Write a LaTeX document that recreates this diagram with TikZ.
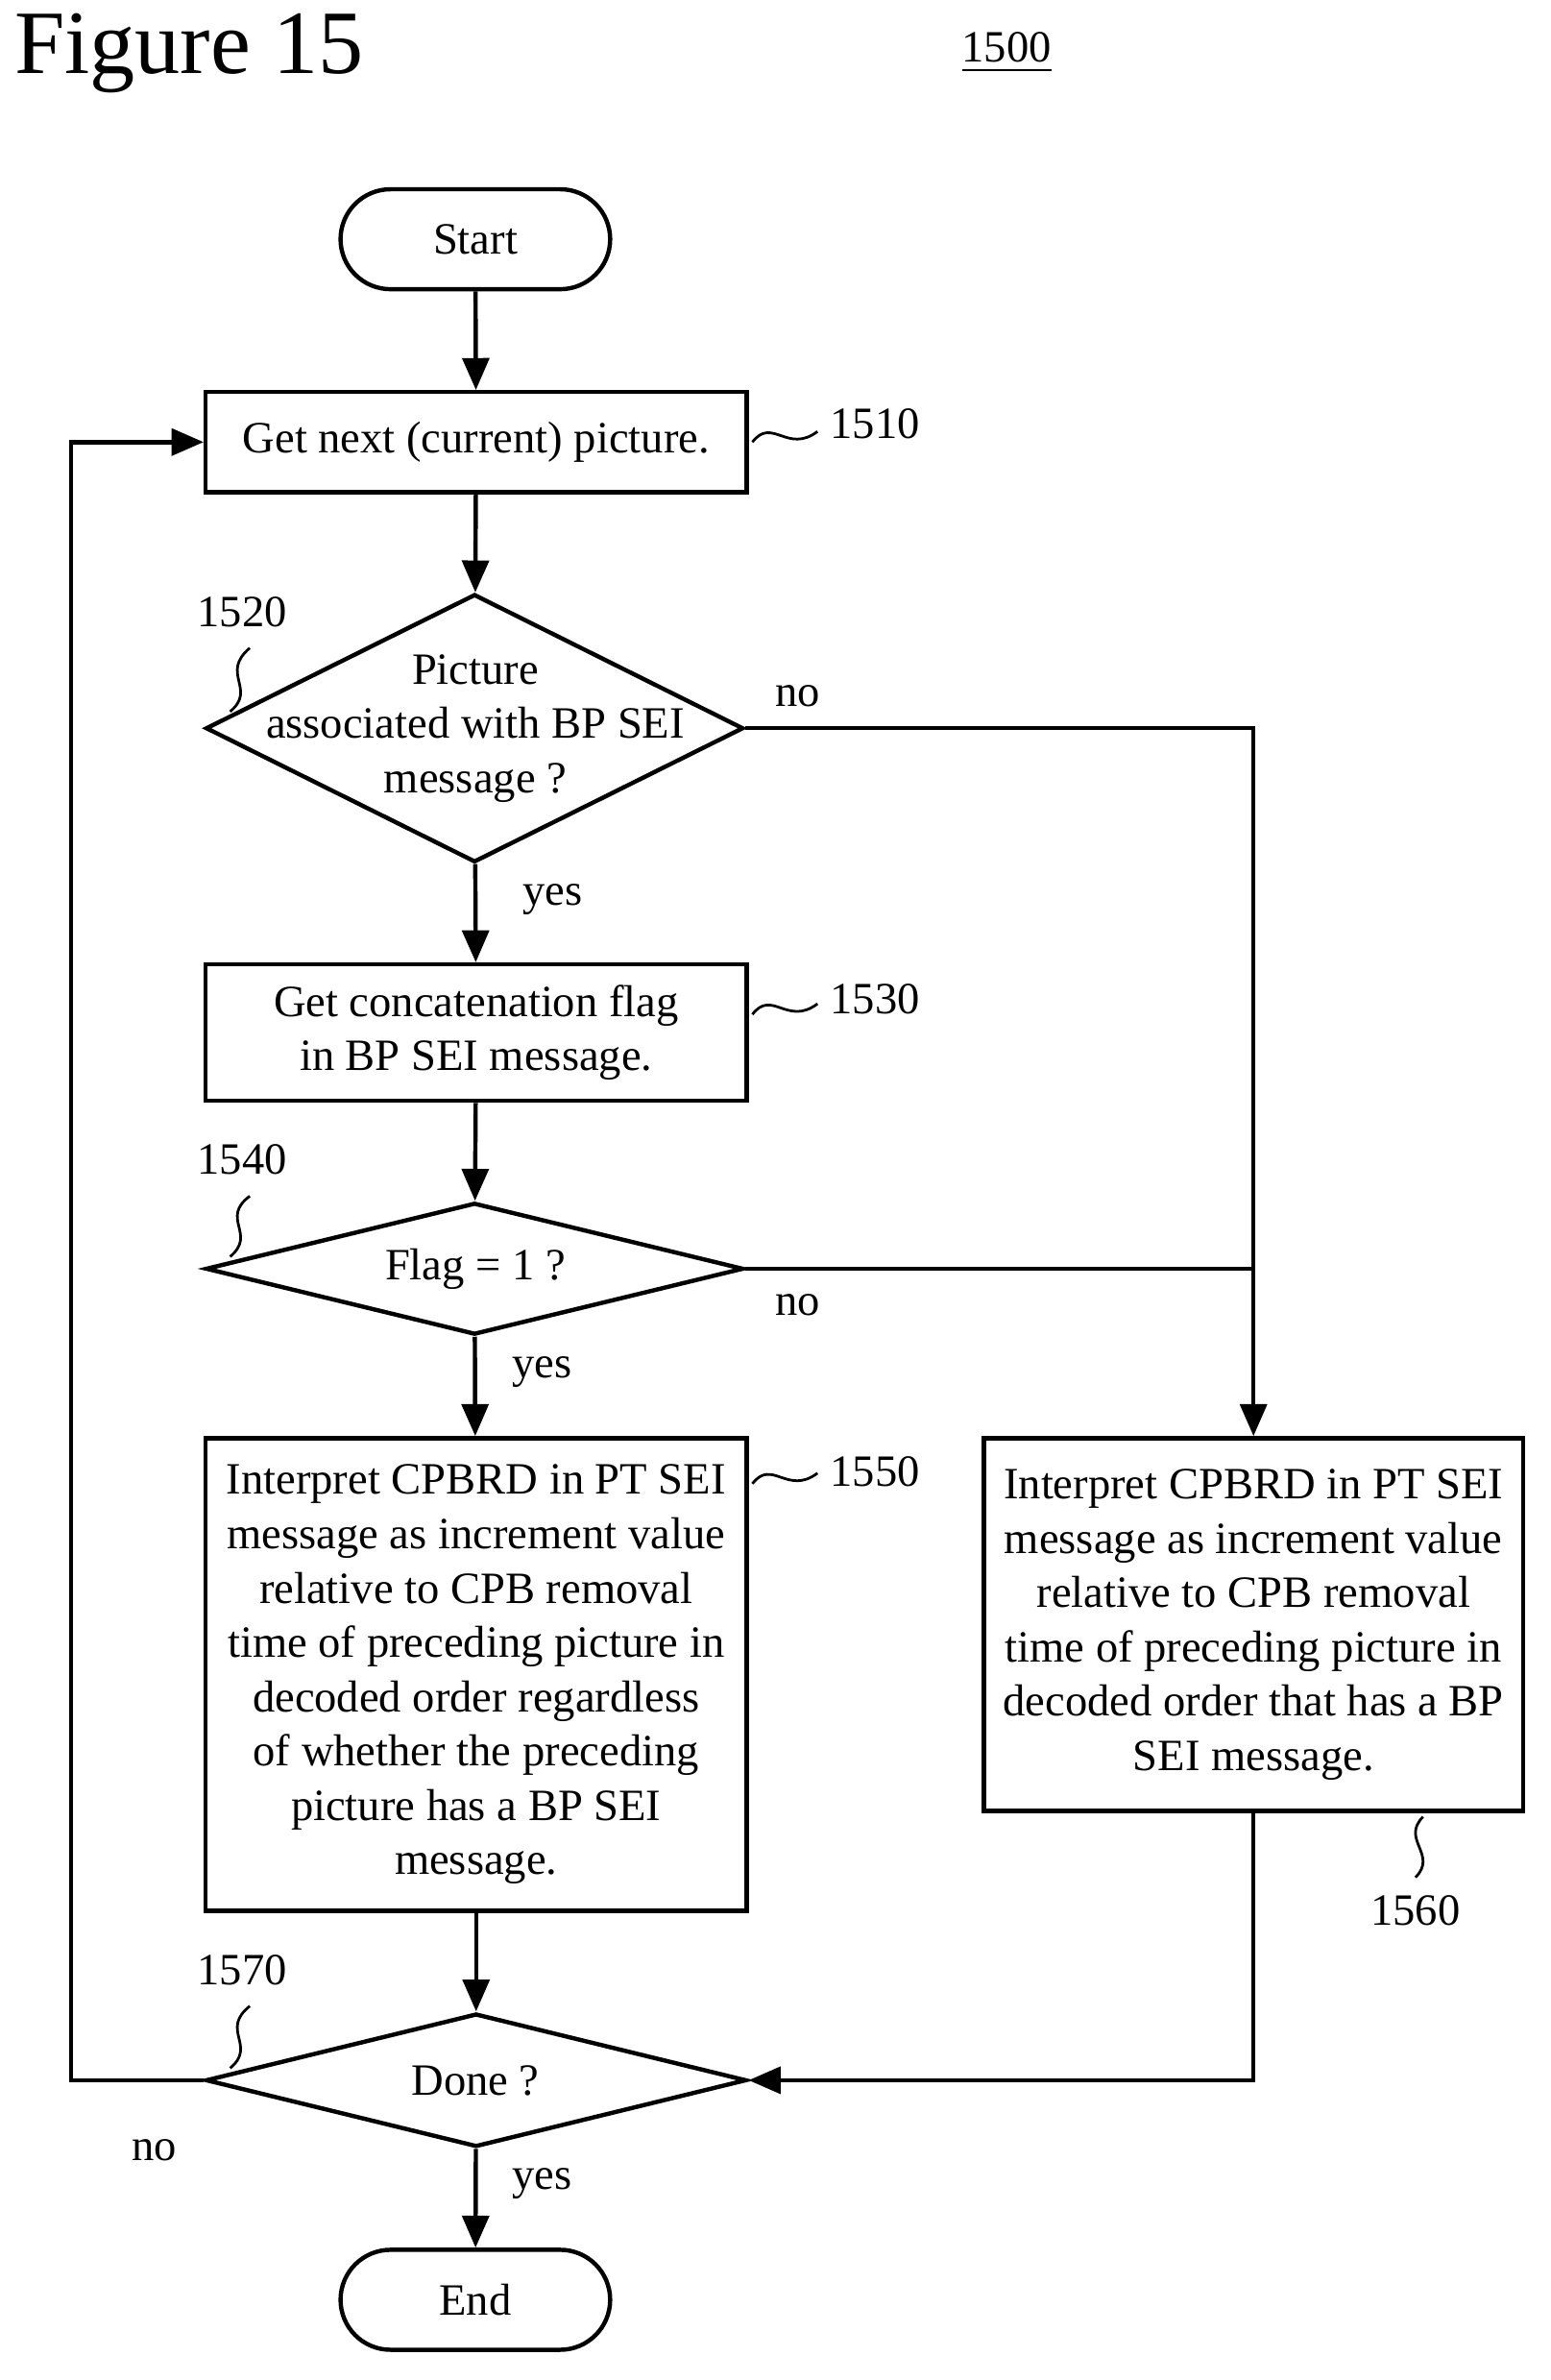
\documentclass[tikz,border=0pt]{standalone}
\usepackage{fontspec}
\setmainfont{Liberation Serif}
\usetikzlibrary{shapes.geometric,arrows.meta}
\begin{document}
\begin{tikzpicture}[x=0.01cm,y=-0.01cm,line width=0.8pt,
  every node/.style={font=\fontsize{8.4}{10.2}\selectfont},
  box/.style={draw,rectangle,align=center,inner sep=0pt},
  term/.style={draw,rounded corners=0.33cm,minimum width=1.78cm,minimum height=0.66cm},
  dia/.style={draw,diamond,inner sep=0pt},
  arr/.style={-{Triangle[length=6pt,width=5pt]}},
  sq/.style={line width=0.5pt}]
\useasboundingbox (0,0) rectangle (1024,1572);
\node[font=\fontsize{17}{20}\selectfont] (fig) at (125,35) {Figure 15};
\node (n1500) at (665,35) {\underline{1500}};
\node[term] (start) at (314,158) {Start};
\node[box,minimum width=3.57cm,minimum height=0.66cm] (b1510) at (314.5,292) {Get next (current) picture.};
\node[dia,minimum width=3.55cm,minimum height=1.77cm] (d1520) at (313.5,481) {};
\node[align=center] (t1520) at (314,481) {Picture\\associated with BP SEI\\message ?};
\node[box,minimum width=3.57cm,minimum height=0.90cm] (b1530) at (314.5,682) {Get concatenation flag\\in BP SEI message.};
\node[dia,minimum width=3.55cm,minimum height=0.87cm] (d1540) at (313.5,838) {};
\node (t1540) at (314,838) {Flag = 1 ?};
\node[box,minimum width=3.57cm,minimum height=3.12cm] (b1550) at (314.5,1106) {Interpret CPBRD in PT SEI\\message as increment value\\relative to CPB removal\\time of preceding picture in\\decoded order regardless\\of whether the preceding\\picture has a BP SEI\\message.};
\node[box,minimum width=3.56cm,minimum height=2.46cm] (b1560) at (828,1073) {Interpret CPBRD in PT SEI\\message as increment value\\relative to CPB removal\\time of preceding picture in\\decoded order that has a BP\\SEI message.};
\node[dia,minimum width=3.57cm,minimum height=0.88cm] (d1570) at (314.5,1374) {};
\node (t1570) at (314,1374) {Done ?};
\node[term] (end) at (314,1519) {End};
% labels
\node (l1510) at (578,280) {1510};
\node (l1520) at (160,404) {1520};
\node (l1530) at (578,660) {1530};
\node (l1540) at (160,766) {1540};
\node (l1550) at (578,972) {1550};
\node (l1560) at (935,1262) {1560};
\node (l1570) at (160,1301) {1570};
\node (yes1) at (365,594) {yes};
\node (no1) at (527,460) {no};
\node (no2) at (527,862) {no};
\node (yes2) at (358,906) {yes};
\node (no3) at (102,1420) {no};
\node (yes3) at (358,1442) {yes};
% squiggles
\draw[sq] (497,292) .. controls (510,275) and (520,300) .. (540,285);
\draw[sq] (497,670) .. controls (510,653) and (520,678) .. (540,663);
\draw[sq] (497,980) .. controls (510,963) and (520,988) .. (540,973);
\draw[sq] (152,470) .. controls (170,455) and (145,445) .. (165,428);
\draw[sq] (152,830) .. controls (170,815) and (145,805) .. (165,790);
\draw[sq] (152,1366) .. controls (170,1351) and (145,1341) .. (165,1325);
\draw[sq] (940,1200) .. controls (925,1215) and (950,1225) .. (935,1240);
% connectors
\coordinate (r1) at (828,481);
\coordinate (r2) at (828,838);
\coordinate (r3) at (828,1374);
\coordinate (l1) at (47,1374);
\coordinate (l2) at (47,292);
\draw[arr] (start) -- (b1510);
\draw[arr] (b1510) -- (d1520);
\draw[arr] (d1520) -- (b1530);
\draw[arr] (b1530) -- (d1540);
\draw[arr] (d1540) -- (b1550);
\draw[arr] (b1550) -- (d1570);
\draw[arr] (d1570) -- (end);
\draw[arr] (d1520.east) -- (r1) -- (b1560.north);
\draw (d1540.east) -- (r2);
\draw[arr] (b1560.south) -- (r3) -- (d1570.east);
\draw[arr] (d1570.west) -- (l1) -- (l2) -- (b1510.west);
\end{tikzpicture}
\end{document}
